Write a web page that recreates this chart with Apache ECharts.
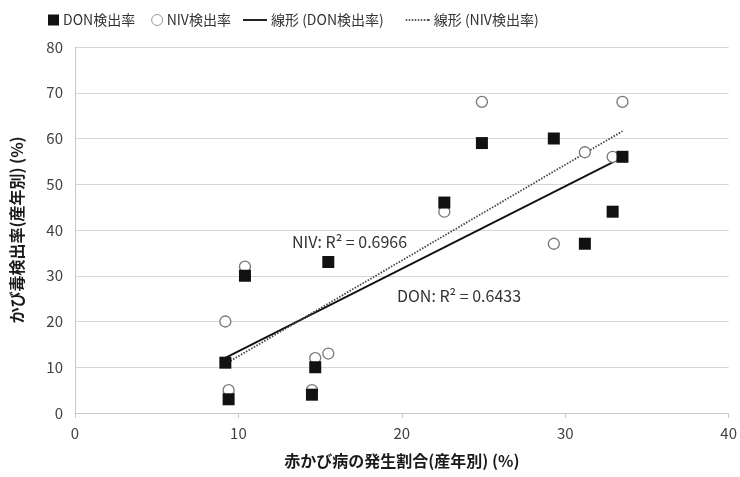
<!DOCTYPE html>
<html>
<head>
<meta charset="utf-8">
<script src="https://cdn.jsdelivr.net/npm/echarts@6/dist/echarts.min.js"></script>
<style>
  html, body { margin: 0; padding: 0; background: #fff; }
  #main { width: 740px; height: 477px; }
</style>
</head>
<body>
<div id="main"></div>
<script>
// incidence of scab per year (%)
var xValues = [9.2, 9.4, 10.4, 14.5, 14.7, 15.5, 22.6, 24.9, 29.3, 31.2, 32.9, 33.5];
var donRate = [11, 3, 30, 4, 10, 33, 46, 59, 60, 37, 44, 56];
var nivRate = [20, 5, 32, 5, 12, 13, 44, 68, 37, 57, 56, 68];
var xTicks = [0, 10, 20, 30, 40];
var yTicks = [0, 10, 20, 30, 40, 50, 60, 70, 80];

// least squares trend, same as the spreadsheet trendline
function trend(xs, ys) {
  var n = xs.length, sx = 0, sy = 0, sxx = 0, sxy = 0;
  for (var i = 0; i < n; i++) {
    sx += xs[i]; sy += ys[i]; sxx += xs[i] * xs[i]; sxy += xs[i] * ys[i];
  }
  var b = (n * sxy - sx * sy) / (n * sxx - sx * sx);
  var a = (sy - b * sx) / n;
  var x0 = Math.min.apply(null, xs), x1 = Math.max.apply(null, xs);
  return [[x0, a + b * x0], [x1, a + b * x1]];
}

function pairs(xs, ys) {
  return xs.map(function (x, i) { return [x, ys[i]]; });
}

var myChart = echarts.init(document.getElementById('main'));
var font = '"Noto Sans CJK JP", "Noto Sans", sans-serif';
var legendText = { fontSize: 14, color: '#333', fontFamily: font, padding: [0, 0, 0, -1] };

option = {
  animation: false,
  textStyle: { fontFamily: font },
  legend: [
    {
      top: 8,
      left: 43,
      itemGap: 16,
      itemWidth: 11,
      itemHeight: 11,
      textStyle: legendText,
      data: [
        { name: 'DON検出率', icon: 'rect', itemStyle: { color: '#111', borderWidth: 0 } },
        { name: 'NIV検出率', icon: 'circle', itemStyle: { color: '#fff', borderColor: '#999', borderWidth: 1 } }
      ]
    },
    {
      top: 8,
      left: 238,
      itemGap: 22,
      itemWidth: 24,
      itemHeight: 2,
      textStyle: legendText,
      data: [
        { name: '線形 (DON検出率)', icon: 'path://M0,0h24v2h-24z', itemStyle: { color: '#222' } },
        { name: '線形 (NIV検出率)', icon: 'path://M0,0h1.5v2h-1.5z M3,0h1.5v2h-1.5z M6,0h1.5v2h-1.5z M9,0h1.5v2h-1.5z M12,0h1.5v2h-1.5z M15,0h1.5v2h-1.5z M18,0h1.5v2h-1.5z M21,0h1.5v2h-1.5z M22.5,0h1.5v2h-1.5z', itemStyle: { color: '#555' } }
      ]
    }
  ],
  grid: { left: 75, right: 9, top: 47, bottom: 64 },
  xAxis: {
    type: 'value',
    min: 0, max: 40, interval: 10,
    name: '赤かび病の発生割合(産年別) (%)',
    nameLocation: 'middle',
    nameGap: 40,
    nameTextStyle: { fontSize: 16, fontWeight: 'bold', color: '#1a1a1a' },
    axisLine: { show: true, lineStyle: { color: '#c8c8c8' } },
    axisTick: { show: true, length: 5, lineStyle: { color: '#c8c8c8' } },
    axisLabel: { fontSize: 15, color: '#404040', margin: 13 },
    splitLine: { show: false }
  },
  yAxis: {
    type: 'value',
    min: 0, max: 80, interval: 10,
    name: 'かび毒検出率(産年別) (%)',
    nameLocation: 'middle',
    nameGap: 50,
    nameTextStyle: { fontSize: 16, fontWeight: 'bold', color: '#1a1a1a' },
    axisLine: { show: true, lineStyle: { color: '#c8c8c8' } },
    axisTick: { show: false },
    axisLabel: { fontSize: 15, color: '#404040', margin: 12 },
    splitLine: { lineStyle: { color: '#d6d6d6' } }
  },
  series: [
    {
      name: '線形 (DON検出率)',
      type: 'line',
      symbol: 'none',
      z: 1,
      color: '#111',
      lineStyle: { color: '#111', width: 1.8, type: 'solid' },
      data: trend(xValues, donRate),
      markPoint: {
        symbolSize: 0,
        label: { show: true, color: '#333', fontSize: 16, formatter: 'DON: R² = 0.6433' },
        data: [{ coord: [23.5, 25.6] }]
      }
    },
    {
      name: '線形 (NIV検出率)',
      type: 'line',
      symbol: 'none',
      z: 1,
      color: '#444',
      lineStyle: { color: '#444', width: 1.8, type: [1.5, 1.5] },
      data: trend(xValues, nivRate),
      markPoint: {
        symbolSize: 0,
        label: { show: true, color: '#333', fontSize: 16, formatter: 'NIV: R² = 0.6966' },
        data: [{ coord: [16.8, 37.4] }]
      }
    },
    {
      name: 'NIV検出率',
      type: 'scatter',
      symbol: 'circle',
      symbolSize: 11,
      z: 2,
      itemStyle: { color: '#fff', borderColor: '#777', borderWidth: 1.3, opacity: 1 },
      data: pairs(xValues, nivRate)
    },
    {
      name: 'DON検出率',
      type: 'scatter',
      symbol: 'rect',
      symbolSize: 12,
      z: 3,
      itemStyle: { color: '#111', opacity: 1 },
      data: pairs(xValues, donRate)
    }
  ]
};

myChart.setOption(option);
</script>
</body>
</html>
